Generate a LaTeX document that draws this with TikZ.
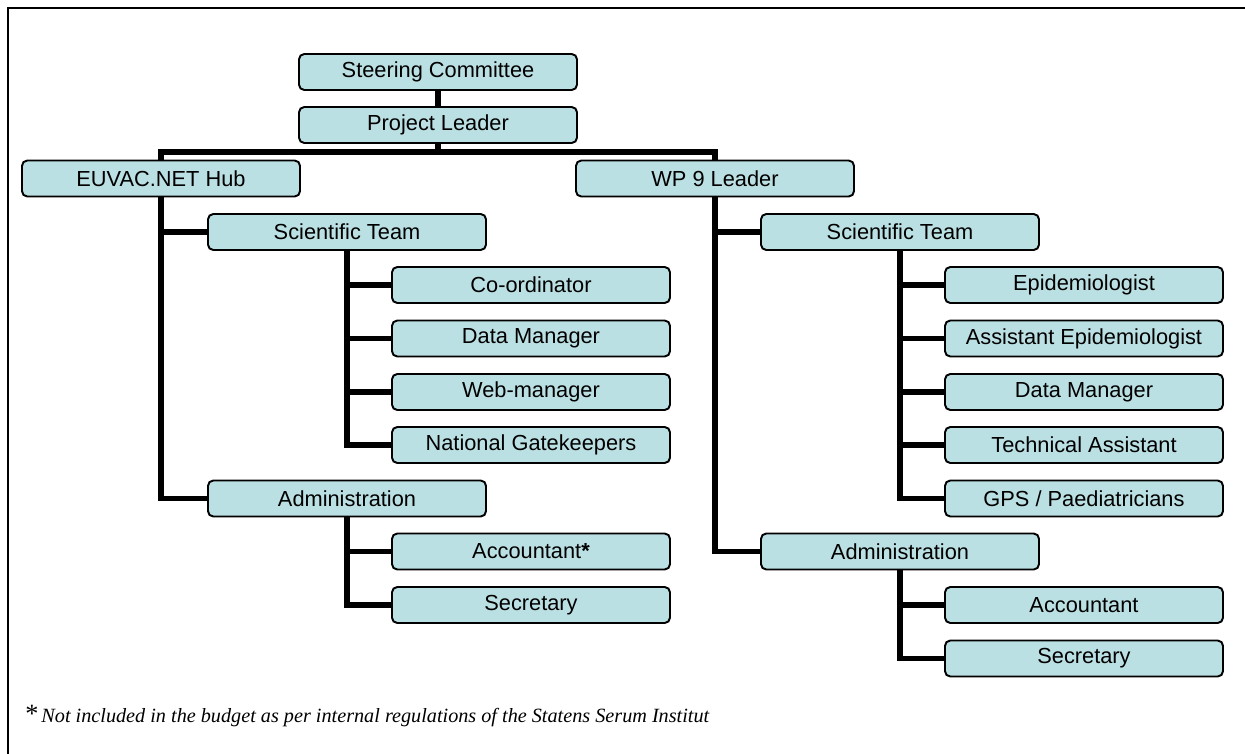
\documentclass[tikz,border=0pt]{standalone}
\usepackage{fontspec}
\setmainfont{Liberation Sans}
\newfontfamily\notefont{Liberation Serif}
\usepackage{tikz}
\usepackage{xcolor}
\definecolor{boxfill}{RGB}{187,224,227}

\begin{document}
\begin{tikzpicture}
        \useasboundingbox (0,0) rectangle (24.9,-15.06);
        \tikzstyle{post}=[rectangle,rounded corners=3pt,draw=black,fill=boxfill,line width=1.1pt,
        inner sep=0pt,minimum width=5.56cm,minimum height=0.72cm,font=\fontsize{12.4}{14}\selectfont]
        \tikzstyle{link}=[line width=3.2pt]
        % frame
        \draw[line width=1.7pt] (0.16,-15.3) -- (0.16,-0.16) -- (25.2,-0.16);
        % top
        \node at ( 8.76,-1.44) [post] (steer) {Steering Committee};
        \node at ( 8.76,-2.50) [post] (lead) {Project Leader};
        \coordinate (bus) at (8.76,-3.04);
        \node at ( 3.22,-3.57) [post] (hub) {EUVAC.NET Hub};
        \node at (14.30,-3.57) [post] (wp) {WP 9 Leader};
        % hub side
        \node at ( 6.94,-4.64) [post] (hubsci) {Scientific Team};
        \node at (10.62,-5.70) [post] (coord) {Co-ordinator};
        \node at (10.62,-6.77) [post] (hubdata) {Data Manager};
        \node at (10.62,-7.84) [post] (web) {Web-manager};
        \node at (10.62,-8.90) [post] (gate) {National Gatekeepers};
        \node at ( 6.94,-9.97) [post] (hubadm) {Administration};
        \node at (10.62,-11.03) [post] (hubacc) {Accountant\textbf{*}};
        \node at (10.62,-12.10) [post] (hubsec) {Secretary};
        % wp side
        \node at (18.00,-4.64) [post] (wpsci) {Scientific Team};
        \node at (21.68,-5.70) [post] (epi) {Epidemiologist};
        \node at (21.68,-6.77) [post] (asepi) {Assistant Epidemiologist};
        \node at (21.68,-7.84) [post] (wpdata) {Data Manager};
        \node at (21.68,-8.90) [post] (tech) {Technical Assistant};
        \node at (21.68,-9.97) [post] (gps) {GPS / Paediatricians};
        \node at (18.00,-11.03) [post] (wpadm) {Administration};
        \node at (21.68,-12.10) [post] (wpacc) {Accountant};
        \node at (21.68,-13.17) [post] (wpsec) {Secretary};
        % links
        \draw[link] (steer.south) -- (lead.north);
        \draw[link] (lead.south) -- (bus);
        \draw[link] (hub.north) |- (bus) -| (wp.north);
        \draw[link] (hub.south) |- (hubsci.west);
        \draw[link] (hub.south) |- (hubadm.west);
        \draw[link] (hubsci.south) |- (coord.west);
        \draw[link] (hubsci.south) |- (hubdata.west);
        \draw[link] (hubsci.south) |- (web.west);
        \draw[link] (hubsci.south) |- (gate.west);
        \draw[link] (hubadm.south) |- (hubacc.west);
        \draw[link] (hubadm.south) |- (hubsec.west);
        \draw[link] (wp.south) |- (wpsci.west);
        \draw[link] (wp.south) |- (wpadm.west);
        \draw[link] (wpsci.south) |- (epi.west);
        \draw[link] (wpsci.south) |- (asepi.west);
        \draw[link] (wpsci.south) |- (wpdata.west);
        \draw[link] (wpsci.south) |- (tech.west);
        \draw[link] (wpsci.south) |- (gps.west);
        \draw[link] (wpadm.south) |- (wpacc.west);
        \draw[link] (wpadm.south) |- (wpsec.west);
        % footnote
        \node[anchor=base west,inner sep=0pt] at (0.5,-14.44) (note)
        {{\notefont\fontsize{15}{15}\selectfont *}\,{\notefont\itshape\fontsize{11.5}{14}\selectfont Not included in the budget as per internal regulations of the Statens Serum Institut}};
\end{tikzpicture}
\end{document}
